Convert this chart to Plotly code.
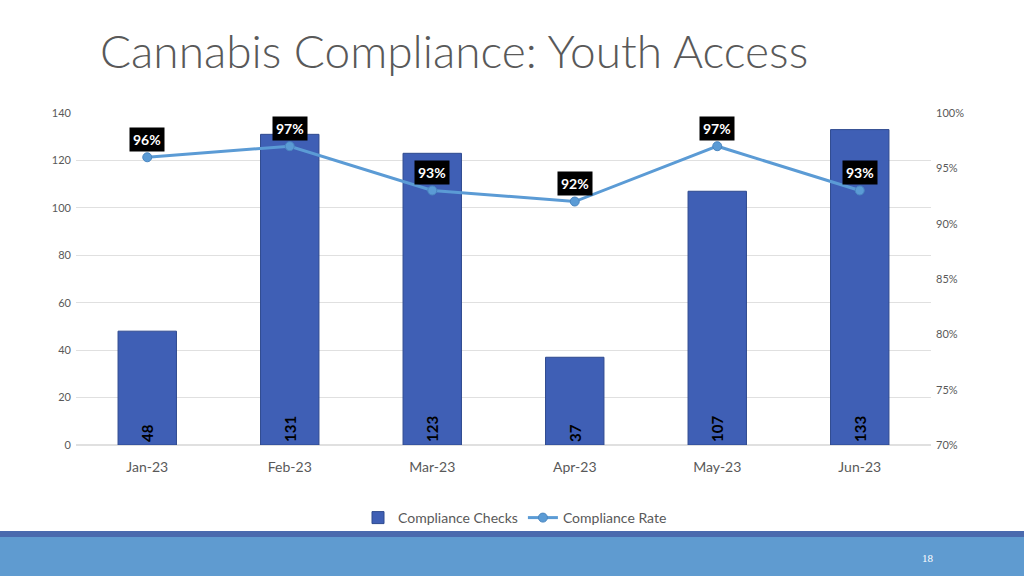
import plotly.graph_objects as go

months = ["Jan-23", "Feb-23", "Mar-23", "Apr-23", "May-23", "Jun-23"]
checks = [48, 131, 123, 37, 107, 133]
rate = [0.96, 0.97, 0.93, 0.92, 0.97, 0.93]

FONT = "Lato"
GRAY = "#595959"

fig = go.Figure()
fig.add_trace(go.Bar(
    x=months, y=checks, name="Compliance Checks",
    marker=dict(color="#3f5fb5", line=dict(color="#2f4a8f", width=1)),
    width=0.41,
    text=[str(v) for v in checks], textposition="inside", insidetextanchor="start",
    textangle=-90, textfont=dict(family=FONT, size=15, color="black", weight="bold"),
    cliponaxis=False,
))
fig.add_trace(go.Scatter(
    x=months, y=rate, name="Compliance Rate", yaxis="y2", mode="lines+markers",
    line=dict(color="#5b9bd5", width=3),
    marker=dict(size=9, color="#5b9bd5", line=dict(color="#4a86c0", width=1)),
))

for m, r in zip(months, rate):
    fig.add_annotation(
        x=m, y=r, yref="y2", text=f"<b>{round(r*100)}%</b>", showarrow=False,
        yshift=18, bgcolor="black", borderpad=3,
        font=dict(family=FONT, size=14, color="white"),
    )

# bottom bands
fig.add_shape(type="rect", xref="paper", yref="paper", x0=-0.1, x1=1.2,
              y0=-0.259, y1=-0.277, fillcolor="#4a6aae", line_width=0, layer="below")
fig.add_shape(type="rect", xref="paper", yref="paper", x0=-0.1, x1=1.2,
              y0=-0.277, y1=-0.40, fillcolor="#5f9bd0", line_width=0, layer="below")
fig.add_annotation(xref="paper", yref="paper", x=(928-76)/855, y=(445-558)/332,
                   xanchor="center", yanchor="middle",
                   text="18", showarrow=False,
                   font=dict(family="Liberation Serif", size=11, color="white"))

fig.update_layout(
    width=1024, height=576,
    margin=dict(l=76, r=93, t=113, b=131),
    paper_bgcolor="white", plot_bgcolor="white",
    font=dict(family=FONT, color=GRAY),
    title=dict(text="Cannabis Compliance: Youth Access", xref="container", yref="container",
               x=100/1024, xanchor="left", y=1-52/576, yanchor="middle",
               font=dict(family=FONT, size=46, color=GRAY, weight=300)),
    xaxis=dict(tickfont=dict(size=14, color=GRAY), showline=False, showgrid=False,
               range=[-0.5, 5.5], ticklabelstandoff=12),
    yaxis=dict(range=[0, 140], dtick=20, tickfont=dict(size=11, color=GRAY),
               gridcolor="#e0e0e0", zeroline=True, zerolinecolor="#e0e0e0", showline=False,
               ticklabelstandoff=4),
    yaxis2=dict(range=[0.70, 1.00], dtick=0.05, tickformat=".0%", overlaying="y", side="right",
                showgrid=False, tickfont=dict(size=11, color=GRAY), zeroline=False,
                ticklabelstandoff=4),
    legend=dict(orientation="h", xref="container", x=515/1024, xanchor="center",
                yref="container", y=1-518/576, yanchor="middle", bgcolor="rgba(0,0,0,0)",
                font=dict(size=14, color=GRAY), itemwidth=30, tracegroupgap=0),
    bargap=0.59,
    showlegend=True,
)

fig.write_html("out.html", config={"displayModeBar": False},
               post_script="document.body.style.margin='0';document.body.style.overflow='hidden';")
